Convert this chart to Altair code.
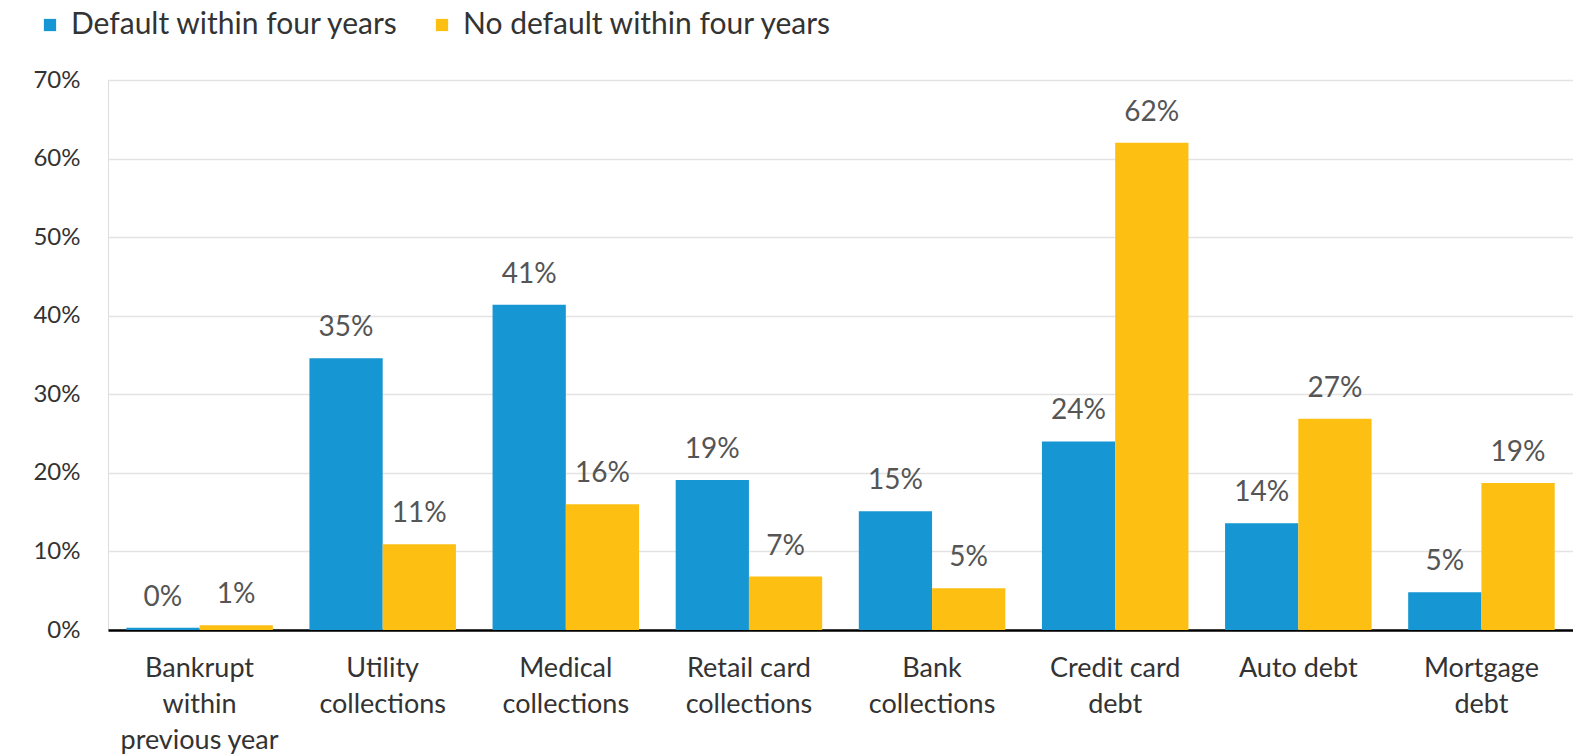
import altair as alt
import pandas as pd

categories = ["Bankrupt|within|previous year", "Utility|collections", "Medical|collections",
              "Retail card|collections", "Bank|collections", "Credit card|debt", "Auto debt", "Mortgage|debt"]
default_vals = [0.3, 34.6, 41.4, 19.1, 15.1, 24.0, 13.6, 4.8]
nodefault_vals = [0.6, 10.9, 16.0, 6.8, 5.3, 62.0, 26.9, 18.7]
series = ["Default within four years", "No default within four years"]
colors = ["#1696d2", "#fdbf11"]

rows = []
for c, a, b in zip(categories, default_vals, nodefault_vals):
    rows.append({"cat": c, "series": series[0], "value": a / 100})
    rows.append({"cat": c, "series": series[1], "value": b / 100})
df = pd.DataFrame(rows)

FONT = "Lato"

x = alt.X("cat:N", sort=categories, title=None,
          scale=alt.Scale(paddingInner=0.2, paddingOuter=0.1),
          axis=alt.Axis(labelExpr="split(datum.label, '|')", labelAngle=0, labelFontSize=27,
                        labelColor="#333333", labelFont=FONT, labelPadding=25, labelLineHeight=36,
                        ticks=False, domainColor="#000000", domainWidth=2.5, grid=False,
                        labelBaseline="top", labelLimit=0))
xo = alt.XOffset("series:N", sort=series)

bars = alt.Chart(df).mark_bar().encode(
    x=x, xOffset=xo,
    y=alt.Y("value:Q", title=None,
            scale=alt.Scale(domain=[0, 0.7], nice=False),
            axis=alt.Axis(format=".0%", values=[0, 0.1, 0.2, 0.3, 0.4, 0.5, 0.6, 0.7],
                          labelFontSize=24, labelColor="#333333", labelFont=FONT,
                          labelPadding=28, ticks=False, domain=False,
                          gridColor="#e3e3e3", gridWidth=1.5)),
    color=alt.Color("series:N", sort=series, title=None,
                    scale=alt.Scale(domain=series, range=colors),
                    legend=alt.Legend(orient="none", legendX=-73, legendY=-70, direction="horizontal",
                                      symbolType="square", symbolSize=150, symbolStrokeWidth=0,
                                      labelFontSize=30, labelFont=FONT, labelColor="#333333",
                                      columnPadding=28, labelOffset=6, labelLimit=0)),
)

labels = alt.Chart(df).mark_text(dy=-22, fontSize=28, font=FONT, color="#555555", baseline="alphabetic").encode(
    x=x, xOffset=xo,
    y=alt.Y("value:Q"),
    text=alt.Text("value:Q", format=".0%"),
)

chart = (bars + labels).properties(
    width=1465, height=550,
    autosize=alt.AutoSizeParams(type="none"),
    padding={"left": 108, "top": 80, "right": 0, "bottom": 125},
).configure_view(strokeWidth=0).configure(background="white")

chart.save("out.html", embed_options={"renderer": "svg", "actions": False})
